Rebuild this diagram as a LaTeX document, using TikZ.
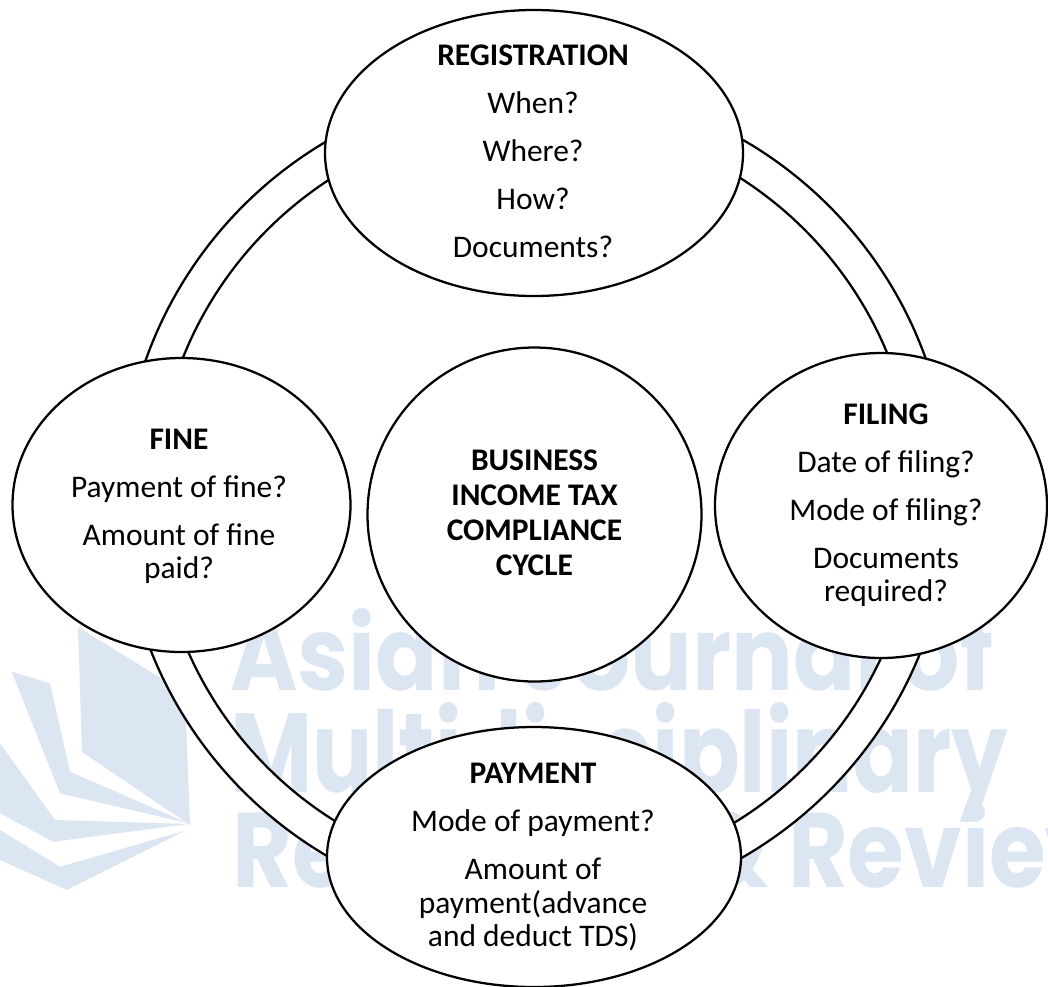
\documentclass[tikz,border=0pt]{standalone}
\usepackage{graphicx}
\usepackage{fontspec}
\setmainfont{Carlito}
\newfontfamily\wmfont{Poppins}
\usetikzlibrary{shapes.geometric}
\definecolor{wmblue}{RGB}{220,230,243}

\begin{document}
\begin{tikzpicture}[x=0.75pt,y=-0.75pt,
  bubble/.style={ellipse, draw=black, line width=1.7pt, fill=white, inner sep=0pt},
  qtext/.style={align=center, inner sep=0pt,
    font=\fontsize{23.6pt}{25pt}\selectfont},
  ctext/.style={align=center, inner sep=0pt,
    font=\fontsize{23.6pt}{26.25pt}\selectfont\bfseries},
  ringline/.style={line width=1.7pt},
  wm/.style={text=wmblue, inner sep=0pt, anchor=base west,
    font=\wmfont\bfseries\fontsize{80pt}{80pt}\selectfont}]

% page
\useasboundingbox (0,0) rectangle (1048,986);
\fill[white] (0,0) rectangle (1048,986);

% faint journal mark in the background
\begin{scope}
  \clip (0,0) rectangle (1048,986);
  \fill[wmblue] (78,627) -- (185,693) -- (190,825) -- (82,752) -- cycle;
  \fill[wmblue] (11.7,671.7) -- (50,683.3) -- (70,771.7) -- (188.3,823.3) -- (60,793.3) -- cycle;
  \fill[wmblue] (0,743.3) -- (55,820) -- (188,824) -- (53.3,841.7) -- (0,813.3) -- cycle;
  \fill[wmblue] (0,830) -- (60,866.7) -- (185,830.7) -- (66.7,890) -- (0,860) -- cycle;
  \node[wm] (wm1) at (230,690) {\resizebox{572.25pt}{61.5pt}{Asian Journal of}};
  \node[wm] (wm2) at (230,792) {\resizebox{583.5pt}{67.5pt}{Multidisciplinary}};
  \node[wm] (wm3) at (232,887) {\resizebox{669.75pt}{63.75pt}{Research \& Review}};
\end{scope}

% the cycle ring
\coordinate (hub) at (536,498.5);
\fill[white, even odd rule] (hub) circle[radius=310.5pt] (hub) circle[radius=285pt];
\draw[ringline] (hub) circle[radius=310.5pt];
\draw[ringline] (hub) circle[radius=285pt];

% stages
\node[bubble, minimum width=313.5pt, minimum height=214.5pt] (reg) at (534,153) {};
\node[bubble, minimum width=253.5pt, minimum height=220.5pt] (fine) at (181.5,505) {};
\node[bubble, minimum width=249pt, minimum height=228.75pt] (filing) at (881,505.5) {};
\node[bubble, minimum width=310.5pt, minimum height=195pt] (pay) at (534,857) {};
\node[bubble, minimum width=250.5pt, minimum height=250.5pt] (core) at (534.5,514.5) {};

% texts
\node[qtext] (regtxt) at (533,151.5)
  {\textbf{REGISTRATION}\\[11pt]When?\\[11pt]Where?\\[11pt]How?\\[11pt]Documents?};
\node[qtext] (finetxt) at (179,506.4)
  {\textbf{FINE}\\[11pt]Payment of fine?\\[11pt]Amount of fine\\paid?};
\node[qtext] (filtxt) at (886,505.5)
  {\textbf{FILING}\\[11pt]Date of filing?\\[11pt]Mode of filing?\\[11pt]Documents\\required?};
\node[qtext] (paytxt) at (533,857)
  {\textbf{PAYMENT}\\[11pt]Mode of payment?\\[11pt]Amount of\\payment(advance\\and deduct TDS)};
\node[ctext] (coretxt) at (534.5,512.3)
  {BUSINESS\\INCOME TAX\\COMPLIANCE\\CYCLE};

\end{tikzpicture}
\end{document}
